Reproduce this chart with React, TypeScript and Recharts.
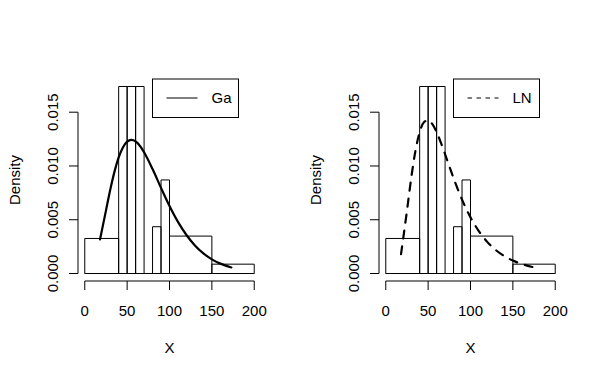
import React from "react";
import {
  ComposedChart,
  Line,
  XAxis,
  YAxis,
  ReferenceArea,
  ReferenceLine,
  Label,
} from "recharts";

// histogram: bin edges and densities (same sample in both panels)
const binEdges = [0, 40, 50, 60, 70, 80, 90, 100, 150, 200];
const binDensity = [0.00326, 0.01739, 0.01739, 0.01739, 0, 0.00435, 0.0087, 0.00348, 0.00087];

// fitted density curves
const curveX = [18, 25, 30, 35, 40, 45, 50, 55, 60, 65, 70, 80, 90, 100, 110, 120, 130, 140, 150, 160, 173];
const gammaDensity = [
  0.00318, 0.00585, 0.00777, 0.00945, 0.01079, 0.01172, 0.01226, 0.01243, 0.01228, 0.01188, 0.01127,
  0.00971, 0.00796, 0.00628, 0.0048, 0.00358, 0.00261, 0.00187, 0.00132, 0.00092, 0.00056,
];
const lognormalDensity = [
  0.0018, 0.00583, 0.00886, 0.0114, 0.01314, 0.01406, 0.01425, 0.01389, 0.01315, 0.01218, 0.01109,
  0.00887, 0.00687, 0.00522, 0.00392, 0.00292, 0.00217, 0.00162, 0.0012, 0.0009, 0.00061,
];

const xTicks = [0, 50, 100, 150, 200];
const yTicks = [0, 0.005, 0.01, 0.015];

const X_DOMAIN = [-8, 208];
const Y_DOMAIN = [-0.000696, 0.018087];

const FONT = "'Liberation Sans', Arial, Helvetica, sans-serif";
const FS = 15;

const XTick = (props: any) => {
  const { x, payload } = props;
  return (
    <text x={x} y={316} textAnchor="middle" fontFamily={FONT} fontSize={FS} fill="#000">
      {payload.value}
    </text>
  );
};

const YTick = (props: any) => {
  const { y, payload } = props;
  return (
    <text
      transform={`translate(57.5,${y}) rotate(-90)`}
      textAnchor="middle"
      fontFamily={FONT}
      fontSize={FS}
      fill="#000"
    >
      {Number(payload.value).toFixed(3)}
    </text>
  );
};

const XLabel = (props: any) => {
  const vb = props.viewBox;
  return (
    <text x={vb.x + vb.width / 2} y={353} textAnchor="middle" fontFamily={FONT} fontSize={FS} fill="#000">
      X
    </text>
  );
};

const YLabel = (props: any) => {
  const vb = props.viewBox;
  return (
    <text
      transform={`translate(20,${vb.y + vb.height / 2}) rotate(-90)`}
      textAnchor="middle"
      fontFamily={FONT}
      fontSize={FS}
      fill="#000"
    >
      Density
    </text>
  );
};

function Panel({ left, values, dashed, name }: { left: number; values: number[]; dashed: boolean; name: string }) {
  const data = curveX.map((x, i) => ({ x, y: values[i] }));
  const bins = binDensity.map((d, i) => ({ x1: binEdges[i], x2: binEdges[i + 1], d }));

  return (
    <div style={{ position: "absolute", left, top: 0, width: 302, height: 379 }}>
      <ComposedChart
        width={302}
        height={379}
        data={data}
        margin={{ top: 79, right: 41, bottom: 0, left: 0 }}
      >
        <XAxis
          type="number"
          dataKey="x"
          domain={X_DOMAIN}
          ticks={xTicks}
          interval={0}
          allowDataOverflow
          axisLine={false}
          tickLine={{ stroke: "#000" }}
          tickSize={9}
          height={98}
          tick={(p: any) => <XTick {...p} />}
        >
          <Label content={(p: any) => <XLabel {...p} />} />
        </XAxis>
        <YAxis
          type="number"
          domain={Y_DOMAIN}
          ticks={yTicks}
          interval={0}
          allowDataOverflow
          axisLine={false}
          tickLine={{ stroke: "#000" }}
          tickSize={9}
          width={78}
          tick={(p: any) => <YTick {...p} />}
        >
          <Label content={(p: any) => <YLabel {...p} />} />
        </YAxis>

        {bins.map((b, i) => (
          <ReferenceArea
            key={`bin-${i}`}
            x1={b.x1}
            x2={b.x2}
            y1={0}
            y2={b.d}
            fill="none"
            fillOpacity={0}
            stroke="#000"
            strokeWidth={1}
            ifOverflow="visible"
          />
        ))}
        <ReferenceLine
          segment={[
            { x: binEdges[0], y: 0 },
            { x: binEdges[binEdges.length - 1], y: 0 },
          ]}
          stroke="#000"
          ifOverflow="visible"
        />
        {/* axis lines span first to last tick, like base graphics */}
        <ReferenceLine
          segment={[
            { x: xTicks[0], y: Y_DOMAIN[0] },
            { x: xTicks[xTicks.length - 1], y: Y_DOMAIN[0] },
          ]}
          stroke="#000"
          ifOverflow="visible"
        />
        <ReferenceLine
          segment={[
            { x: X_DOMAIN[0], y: yTicks[0] },
            { x: X_DOMAIN[0], y: yTicks[yTicks.length - 1] },
          ]}
          stroke="#000"
          ifOverflow="visible"
        />

        <Line
          dataKey="y"
          type="monotone"
          stroke="#000"
          strokeWidth={2.2}
          strokeDasharray={dashed ? "8 8" : undefined}
          strokeLinecap="round"
          dot={false}
          activeDot={false}
          isAnimationActive={false}
        />
      </ComposedChart>

      {/* legend box */}
      <svg width={302} height={379} style={{ position: "absolute", left: 0, top: 0, pointerEvents: "none" }}>
        <rect x={152.5} y={79} width={86} height={38.5} fill="none" stroke="#000" strokeWidth={1} />
        <line
          x1={166.5}
          x2={197.5}
          y1={98}
          y2={98}
          stroke="#000"
          strokeWidth={1}
          strokeDasharray={dashed ? "4.5 4.5" : undefined}
        />
        <text x={211.5} y={103.4} fontFamily={FONT} fontSize={FS} fill="#000">
          {name}
        </text>
      </svg>
    </div>
  );
}

export default function App() {
  return (
    <div style={{ position: "absolute", left: 0, top: 0, width: 603, height: 379, background: "#fff" }}>
      <Panel left={0} values={gammaDensity} dashed={false} name="Ga" />
      <Panel left={301} values={lognormalDensity} dashed={true} name="LN" />
    </div>
  );
}
